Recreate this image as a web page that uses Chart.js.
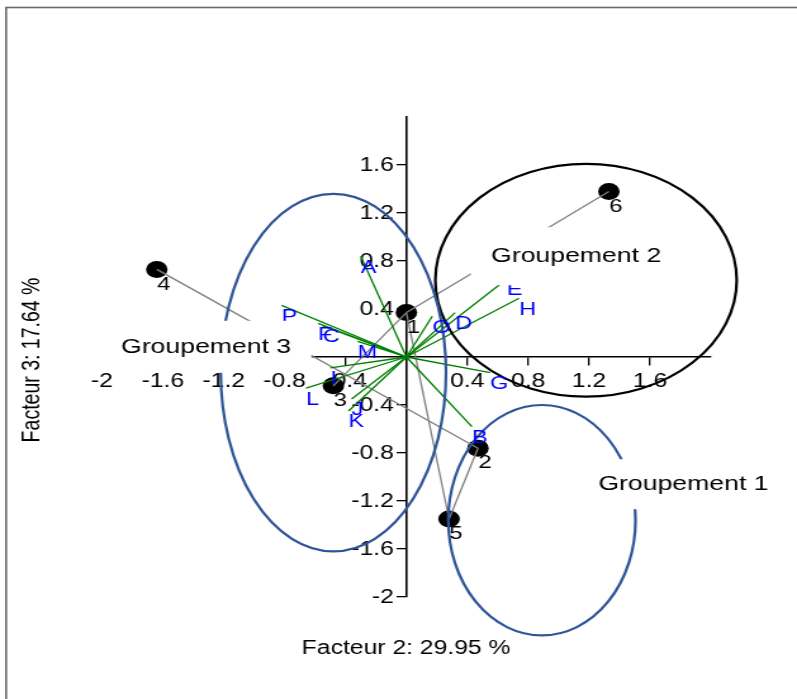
<!DOCTYPE html>
<html>
<head>
<meta charset="utf-8">
<script src="https://cdn.jsdelivr.net/npm/chart.js@4.4.0/dist/chart.umd.min.js"></script>
<style>
  html, body { margin: 0; padding: 0; background: #fff; overflow: hidden; }
</style>
</head>
<body>
<!-- the source picture is stretched horizontally, so the canvas is too -->
<canvas id="chart" width="629" height="699" style="width:797px;height:699px;display:block"></canvas>
<script>
// individus
const pointNames = ['1', '2', '3', '4', '5', '6'];
const pointX = [0.00, 0.47, -0.48, -1.64, 0.28, 1.33];
const pointY = [0.37, -0.76, -0.24, 0.73, -1.35, 1.38];

// grey links between individus (indexes in the lists above)
const linkFrom = [3, 5, 2, 0, 4];
const linkTo = [1, 0, 0, 4, 1];

// variables
const varNames = ['A', 'P', 'F', 'C', 'M', 'I', 'L', 'J', 'K', 'B', 'G', 'D', 'O', 'E', 'H'];
const varX = [-0.30, -0.82, -0.58, -0.55, -0.32, -0.50, -0.66, -0.36, -0.38, 0.43, 0.55, 0.32, 0.17, 0.66, 0.74];
const varY = [0.84, 0.43, 0.28, 0.26, 0.13, -0.09, -0.26, -0.35, -0.45, -0.58, -0.13, 0.37, 0.34, 0.65, 0.49];

const groupNames = ['Groupement 1', 'Groupement 2', 'Groupement 3'];

const xTicks = [-2, -1.6, -1.2, -0.8, -0.4, 0.4, 0.8, 1.2, 1.6];
const yTicks = [-2, -1.6, -1.2, -0.8, -0.4, 0.4, 0.8, 1.2, 1.6];

const xTitle = 'Facteur 2: 29.95 %';
const yTitle = 'Facteur 3: 17.64 %';

// drawing settings for the group ellipses and their labels (data units)
const groupShapes = [
  { cx: 0.89, cy: -1.36, rx: 0.615, ry: 0.96, color: '#2f5597', lx: 1.82, ly: -1.06, hh: 25 },
  { cx: 1.18, cy: 0.64, rx: 0.99, ry: 0.97, color: '#000000', lx: 1.115, ly: 0.84, hh: 29 },
  { cx: -0.48, cy: -0.13, rx: 0.74, ry: 1.49, color: '#2f5597', lx: -1.316, ly: 0.085, hh: 26 }
];

const FONT = 'Liberation Sans, Arial, sans-serif';

const datasets = [];
// green variable vectors
varNames.forEach((n, i) => {
  datasets.push({
    label: n,
    data: [{ x: 0, y: 0 }, { x: varX[i], y: varY[i] }],
    showLine: true,
    borderColor: '#008000',
    borderWidth: 1.3,
    pointRadius: 0,
    order: 0
  });
});
// grey links
linkFrom.forEach((a, i) => {
  const b = linkTo[i];
  datasets.push({
    label: 'link' + i,
    data: [{ x: pointX[a], y: pointY[a] }, { x: pointX[b], y: pointY[b] }],
    showLine: true,
    borderColor: '#808080',
    borderWidth: 1.3,
    pointRadius: 0,
    order: 1
  });
});
// individus
const pointsIndex = datasets.length;
datasets.push({
  label: 'individus',
  data: pointX.map((x, i) => ({ x: x, y: pointY[i] })),
  pointStyle: 'circle',
  pointRadius: 8.5,
  pointBackgroundColor: '#000',
  pointBorderWidth: 0,
  showLine: false,
  order: 2
});

const decor = {
  id: 'decor',
  beforeDraw(chart) {
    const ctx = chart.ctx;
    ctx.save();
    ctx.fillStyle = '#fff';
    ctx.fillRect(0, 0, chart.width, chart.height);
    ctx.strokeStyle = '#6a6a6a';
    ctx.lineWidth = 1.6;
    ctx.strokeRect(4.8, 7.5, chart.width + 10, chart.height + 10);
    ctx.restore();
  },
  beforeDatasetsDraw(chart) {
    // y tick labels, placed left of the tick marks
    const ctx = chart.ctx;
    const xs = chart.scales.x, ys = chart.scales.y;
    const ax = xs.getPixelForValue(0);
    ctx.save();
    ctx.fillStyle = '#000';
    ctx.font = '19.5px ' + FONT;
    ctx.textAlign = 'right';
    ctx.textBaseline = 'middle';
    yTicks.forEach(v => ctx.fillText(String(v), ax - 10, ys.getPixelForValue(v) + 1));
    ctx.restore();
  },
  afterDatasetsDraw(chart) {
    const ctx = chart.ctx;
    const xs = chart.scales.x, ys = chart.scales.y;
    ctx.save();

    // group ellipses
    groupShapes.forEach(g => {
      const cx = xs.getPixelForValue(g.cx), cy = ys.getPixelForValue(g.cy);
      const rx = Math.abs(xs.getPixelForValue(g.cx + g.rx) - cx);
      const ry = Math.abs(ys.getPixelForValue(g.cy + g.ry) - cy);
      ctx.beginPath();
      ctx.ellipse(cx, cy, rx, ry, 0, 0, Math.PI * 2);
      ctx.strokeStyle = g.color;
      ctx.lineWidth = 2.2;
      ctx.stroke();
    });

    // individus numbers
    ctx.fillStyle = '#000';
    ctx.font = '19px ' + FONT;
    ctx.textAlign = 'center';
    ctx.textBaseline = 'middle';
    chart.getDatasetMeta(pointsIndex).data.forEach((el, i) => {
      ctx.fillText(pointNames[i], el.x + 5.5, el.y + 15);
    });

    // variable names
    ctx.fillStyle = '#0000ff';
    ctx.font = '18.5px ' + FONT;
    ctx.textAlign = 'left';
    ctx.textBaseline = 'top';
    varNames.forEach((n, i) => {
      const el = chart.getDatasetMeta(i).data[1];
      ctx.fillText(n, el.x, el.y + 2);
    });

    // group labels on white boxes
    ctx.font = '21px ' + FONT;
    ctx.textAlign = 'center';
    ctx.textBaseline = 'middle';
    groupShapes.forEach((g, i) => {
      const lx = xs.getPixelForValue(g.lx), ly = ys.getPixelForValue(g.ly);
      const w = ctx.measureText(groupNames[i]).width / 2 + 16;
      ctx.fillStyle = '#fff';
      ctx.fillRect(lx - w, ly - g.hh, w * 2, g.hh * 2);
      ctx.fillStyle = '#000';
      ctx.fillText(groupNames[i], lx, ly);
    });

    // axis titles
    ctx.font = '19.5px ' + FONT;
    ctx.fillText(xTitle, 320.5, 649);
    ctx.translate(26, 360);
    ctx.rotate(-Math.PI / 2);
    ctx.fillText(yTitle, 0, 0);
    ctx.restore();
  }
};

const tickFont = { family: FONT, size: 19.5 };

new Chart(document.getElementById('chart'), {
  type: 'scatter',
  data: { datasets: datasets },
  options: {
    responsive: false,
    animation: false,
    devicePixelRatio: 1,
    layout: { padding: { left: 80.5, right: 68, top: 117, bottom: 102 } },
    plugins: { legend: { display: false }, tooltip: { enabled: false } },
    elements: { line: { tension: 0 } },
    scales: {
      x: {
        type: 'linear', min: -2, max: 2,
        position: { y: 0 },
        afterBuildTicks: s => { s.ticks = xTicks.map(v => ({ value: v })); },
        grid: { drawOnChartArea: false, drawTicks: true, tickLength: 8, color: '#000', lineWidth: 1.3 },
        border: { display: true, color: '#000', width: 1.6 },
        ticks: { color: '#000', font: tickFont, padding: 5, maxRotation: 0, autoSkip: false, callback: v => String(v) }
      },
      y: {
        type: 'linear', min: -2, max: 2,
        position: { x: 0 },
        afterBuildTicks: s => { s.ticks = yTicks.map(v => ({ value: v })); },
        grid: { drawOnChartArea: false, drawTicks: true, tickLength: 7, color: '#000', lineWidth: 1.3 },
        border: { display: true, color: '#000', width: 1.6 },
        ticks: { display: false }
      }
    }
  },
  plugins: [decor]
});
</script>
</body>
</html>
